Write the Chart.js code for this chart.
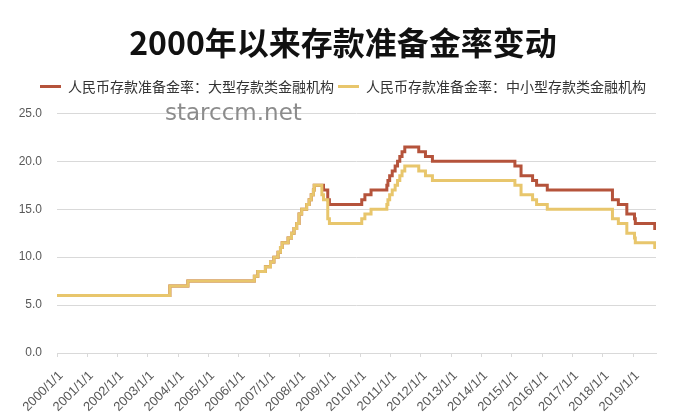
<!DOCTYPE html>
<html>
<head>
<meta charset="utf-8">
<script src="https://cdn.jsdelivr.net/npm/chart.js@4/dist/chart.umd.min.js"></script>
<style>
  html, body { margin: 0; padding: 0; background: #fff; }
  #wrap { width: 680px; height: 412px; position: relative; }
</style>
</head>
<body>
<div id="wrap"><canvas id="rrrChart" width="680" height="412"></canvas></div>
<script>
// Reserve requirement ratio changes since 2000 (%)
const changeDates = [
  '2000-01-01', '2003-09-21', '2004-04-25', '2006-07-05', '2006-08-15', '2006-11-15',
  '2007-01-15', '2007-02-25', '2007-04-16', '2007-05-15', '2007-06-05', '2007-08-15',
  '2007-09-25', '2007-10-25', '2007-11-26', '2007-12-25', '2008-01-25', '2008-03-25',
  '2008-04-25', '2008-05-20', '2008-06-15', '2008-06-25', '2008-09-25', '2008-10-15',
  '2008-12-05', '2008-12-25', '2010-01-18', '2010-02-25', '2010-05-10', '2010-11-16',
  '2010-11-29', '2010-12-20', '2011-01-20', '2011-02-24', '2011-03-25', '2011-04-21',
  '2011-05-18', '2011-06-20', '2011-12-05', '2012-02-24', '2012-05-18', '2015-02-05',
  '2015-04-20', '2015-09-06', '2015-10-24', '2016-03-01', '2018-04-25', '2018-07-05',
  '2018-10-15', '2019-01-15', '2019-01-25', '2019-09-16', '2019-10-01'
];
const largeRate = [
  6.0, 7.0, 7.5, 8.0, 8.5, 9.0,
  9.5, 10.0, 10.5, 11.0, 11.5, 12.0,
  12.5, 13.0, 13.5, 14.5, 15.0, 15.5,
  16.0, 16.5, 17.0, 17.5, 17.5, 17.0,
  16.0, 15.5, 16.0, 16.5, 17.0, 17.5,
  18.0, 18.5, 19.0, 19.5, 20.0, 20.5,
  21.0, 21.5, 21.0, 20.5, 20.0, 19.5,
  18.5, 18.0, 17.5, 17.0, 16.0, 15.5,
  14.5, 14.0, 13.5, 13.0, 13.0
];
const smallRate = [
  6.0, 7.0, 7.5, 8.0, 8.5, 9.0,
  9.5, 10.0, 10.5, 11.0, 11.5, 12.0,
  12.5, 13.0, 13.5, 14.5, 15.0, 15.5,
  16.0, 16.5, 17.0, 17.5, 16.5, 16.0,
  14.0, 13.5, 14.0, 14.5, 15.0, 15.5,
  16.0, 16.5, 17.0, 17.5, 18.0, 18.5,
  19.0, 19.5, 19.0, 18.5, 18.0, 17.5,
  16.5, 16.0, 15.5, 15.0, 14.0, 13.5,
  12.5, 12.0, 11.5, 11.0, 11.0
];
const seriesNames = ['人民币存款准备金率：大型存款类金融机构', '人民币存款准备金率：中小型存款类金融机构'];
const seriesColors = ['#b5533b', '#e8c66c'];
const firstYear = 2000;
const lastTickYear = 2019;
const yTicks = [0, 5, 10, 15, 20, 25];

// date string -> decimal year, so the x axis runs in real time
function toYear(s) {
  const p = s.split('-').map(Number);
  const start = Date.UTC(p[0], 0, 1);
  const end = Date.UTC(p[0] + 1, 0, 1);
  return p[0] + (Date.UTC(p[0], p[1] - 1, p[2]) - start) / (end - start);
}

function points(values) {
  return changeDates.map((d, i) => ({ x: toYear(d), y: values[i] }));
}

const watermark = {
  id: 'watermark',
  afterDraw(chart) {
    const ctx = chart.ctx;
    ctx.save();
    ctx.font = '23px "DejaVu Sans", sans-serif';
    ctx.fillStyle = '#8c8c8c';
    ctx.textBaseline = 'alphabetic';
    ctx.fillText('starccm.net', 165, 120);
    ctx.restore();
  }
};

// a bit more room between legend and plot
const legendGap = {
  id: 'legendGap',
  beforeInit(chart) {
    const fit = chart.legend.fit;
    chart.legend.fit = function() {
      fit.bind(chart.legend)();
      this.height += 10;
    };
  }
};

const cjk = '"Noto Sans CJK SC", "Noto Sans", sans-serif';
const latin = '"Liberation Sans", Arial, sans-serif';

new Chart(document.getElementById('rrrChart'), {
  type: 'line',
  data: {
    datasets: [
      {
        label: seriesNames[0],
        data: points(largeRate),
        borderColor: seriesColors[0],
        backgroundColor: seriesColors[0],
        borderWidth: 3,
        stepped: true,
        pointRadius: 0,
        fill: false,
        order: 1
      },
      {
        label: seriesNames[1],
        data: points(smallRate),
        borderColor: seriesColors[1],
        backgroundColor: seriesColors[1],
        borderWidth: 3,
        stepped: true,
        pointRadius: 0,
        fill: false,
        order: 0
      }
    ]
  },
  options: {
    responsive: false,
    animation: false,
    layout: { padding: { left: 15, right: 9, top: 0, bottom: 0 } },
    plugins: {
      title: {
        display: true,
        text: '2000年以来存款准备金率变动',
        color: '#111',
        font: { family: cjk, size: 32, weight: 'bold' },
        padding: { top: 24, bottom: 13 }
      },
      legend: {
        display: true,
        position: 'top',
        labels: {
          color: '#333',
          font: { family: cjk, size: 14 },
          boxWidth: 21,
          boxHeight: 3,
          padding: 4,
          sort: (a, b) => a.datasetIndex - b.datasetIndex,
          generateLabels: chart => Chart.defaults.plugins.legend.labels.generateLabels(chart)
            .map(l => Object.assign(l, { lineWidth: 0 }))
        }
      },
      tooltip: { enabled: false }
    },
    scales: {
      x: {
        type: 'linear',
        min: firstYear,
        max: toYear(changeDates[changeDates.length - 1]),
        border: { display: true, color: '#d9d9d9' },
        grid: { drawOnChartArea: false, drawTicks: true, tickLength: 4, tickColor: '#d9d9d9' },
        ticks: {
          stepSize: 1,
          includeBounds: false,
          autoSkip: false,
          maxRotation: 45,
          minRotation: 45,
          padding: 11,
          labelOffset: 4,
          color: '#595959',
          font: { family: latin, size: 13 },
          callback: v => (Number.isInteger(v) && v <= lastTickYear) ? v + '/1/1' : ''
        },
        afterFit: s => { s.height = 59; }
      },
      y: {
        min: 0,
        max: 25,
        border: { display: false },
        grid: { color: '#d9d9d9', lineWidth: 1, drawTicks: false },
        afterBuildTicks: s => { s.ticks = yTicks.map(v => ({ value: v })); },
        ticks: {
          padding: 15,
          color: '#595959',
          font: { family: latin, size: 12 },
          callback: v => v.toFixed(1)
        },
        afterFit: s => { s.width = 42; }
      },
      // empty right axis, only keeps the plot's right edge where the original has it
      yRight: {
        position: 'right',
        display: true,
        border: { display: false },
        grid: { drawOnChartArea: false, drawTicks: false },
        ticks: { display: false },
        afterFit: s => { s.width = 15; }
      }
    }
  },
  plugins: [watermark, legendGap]
});
</script>
</body>
</html>
